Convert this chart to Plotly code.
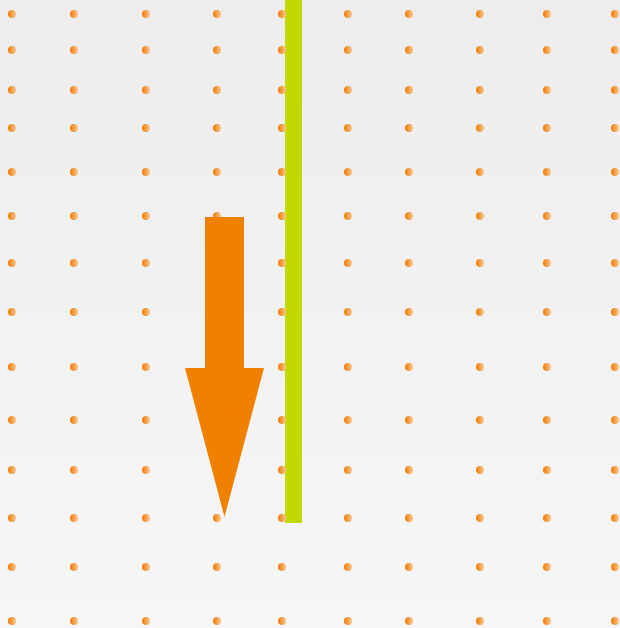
import plotly.graph_objects as go

# ---- data ----
dot_x = [12, 74, 146, 217, 282, 348, 409, 480, 547, 615]
dot_y = [14, 50, 90, 128, 172, 216, 263, 312, 367, 420, 470, 518, 567, 621]

bar_x = [293.5]
bar_value = [523]
bar_width = 17

arrow_center = 224.5
arrow_top = 217
arrow_head_start = 368
arrow_tip = 517
arrow_shaft_width = 39
arrow_head_width = 79

W, H = 620, 628

fig = go.Figure()

# subtle background gradient
bg_rows = [0, H / 2, H]
fig.add_trace(go.Heatmap(
    x=[0, W], y=bg_rows, z=[[0, 0], [0.5, 0.5], [1, 1]],
    colorscale=[[0, "#EDEDED"], [1, "#F6F6F6"]], showscale=False,
    hoverinfo="skip", zsmooth="best"))

# dot grid
gx, gy = [], []
for yy in dot_y:
    for xx in dot_x:
        gx.append(xx)
        gy.append(yy)
fig.add_trace(go.Scatter(
    x=gx, y=gy, mode="markers",
    marker=dict(size=8, color="#F07800", line=dict(width=0),
                gradient=dict(type="horizontal", color="#F8C890")),
    hoverinfo="skip"))

# green bar
fig.add_trace(go.Bar(x=bar_x, y=bar_value, base=0, width=bar_width,
                     marker=dict(color="#C2D900", line=dict(width=0)),
                     hoverinfo="skip"))

# arrow
hs = arrow_shaft_width / 2
hh = arrow_head_width / 2
ax = [arrow_center - hs, arrow_center + hs, arrow_center + hs, arrow_center + hh,
      arrow_center, arrow_center - hh, arrow_center - hs, arrow_center - hs]
ay = [arrow_top, arrow_top, arrow_head_start, arrow_head_start,
      arrow_tip, arrow_head_start, arrow_head_start, arrow_top]
fig.add_trace(go.Scatter(x=ax, y=ay, mode="lines", fill="toself",
                         fillcolor="#F08000", line=dict(width=0, color="#F08000"),
                         hoverinfo="skip"))

fig.update_layout(
    width=W, height=H, margin=dict(l=0, r=0, t=0, b=0),
    showlegend=False, paper_bgcolor="#F2F2F2", plot_bgcolor="#F2F2F2",
    xaxis=dict(range=[0, W], visible=False, fixedrange=True),
    yaxis=dict(range=[H, 0], visible=False, fixedrange=True),
    bargap=0,
)
fig.write_html(
    "out.html",
    config={"displayModeBar": False},
    post_script="document.body.style.margin='0';document.body.style.overflow='hidden';",
)
